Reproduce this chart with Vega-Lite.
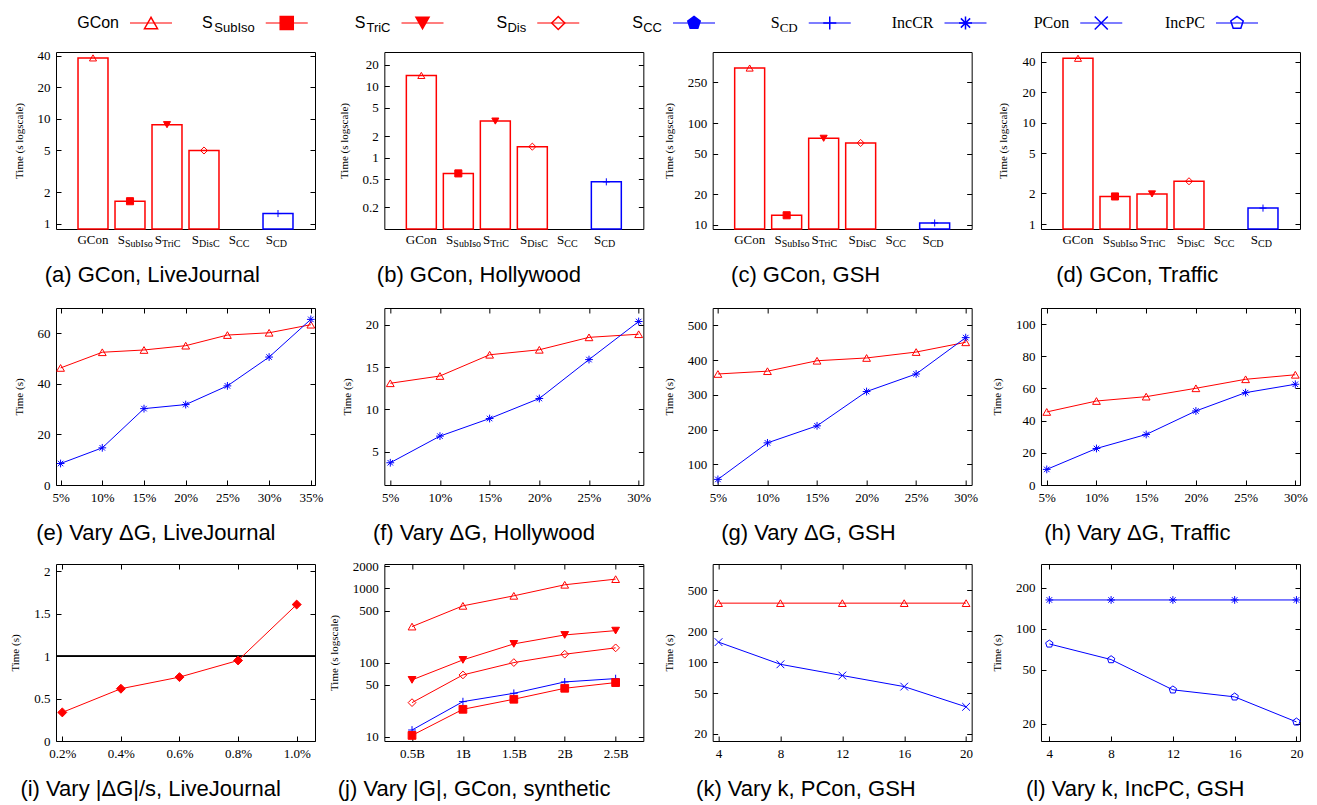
{
"$schema":"https://vega.github.io/schema/vega-lite/v6.json",
"padding":{"left":9,"top":13,"right":5,"bottom":0},
"config":{
 "view":{"stroke":"black","strokeWidth":1},
 "axis":{"grid":false,"domain":false,"ticks":true,"tickColor":"black","tickSize":-5,"tickWidth":1,"labelFont":"Liberation Serif","labelFontSize":13,"labelColor":"black","labelPadding":11,"labelFlush":false,"labelOverlap":false,"titleFont":"Liberation Serif","titleFontSize":11,"titleFontWeight":"normal","titleColor":"black","titlePadding":13},
 "title":{"font":"Liberation Sans","fontSize":22,"fontWeight":"normal","color":"black","orient":"bottom","anchor":"middle","frame":"bounds","offset":16,"dx":-12},
 "text":{"font":"Liberation Serif","color":"black"}
},
"spacing":14,
"vconcat":[
{
 "width":1243,"height":20,"view":{"stroke":null},
 "data":{"values":[{"i":1,"s":"GCon","lab":"GCon"},{"i":2,"s":"SubIso","sub":"SubIso"},{"i":3,"s":"TriC","sub":"TriC"},{"i":4,"s":"Dis","sub":"Dis"},{"i":5,"s":"CC","sub":"CC"},{"i":6,"s":"CD","sub":"CD"},{"i":7,"s":"IncCR","lab":"IncCR"},{"i":8,"s":"PCon","lab":"PCon"},{"i":9,"s":"IncPC","lab":"IncPC"}]},
 "layer":[
  {"mark":{"type":"point","shape":"M-1,0L1,0","size":1764,"strokeWidth":2,"opacity":0.5,"filled":false},
   "encoding":{"x":{"field":"i","type":"quantitative","scale":{"domain":[0.3002,9.4567],"nice":false,"zero":false},"axis":null},
    "stroke":{"field":"s","type":"nominal","scale":{"domain":["GCon","SubIso","TriC","Dis","CC","CD","IncCR","PCon","IncPC","Ratio"],"range":["#ff0000","#ff0000","#ff0000","#ff0000","#0000ff","#0000ff","#0000ff","#0000ff","#0000ff","#ff0000"]},"legend":null}}},
  {"mark":{"type":"point","size":170,"strokeWidth":1.5,"opacity":1},
   "encoding":{"x":{"field":"i","type":"quantitative","scale":{"domain":[0.3002,9.4567],"nice":false,"zero":false},"axis":null},
    "stroke":{"field":"s","type":"nominal","scale":{"domain":["GCon","SubIso","TriC","Dis","CC","CD","IncCR","PCon","IncPC","Ratio"],"range":["#ff0000","#ff0000","#ff0000","#ff0000","#0000ff","#0000ff","#0000ff","#0000ff","#0000ff","#ff0000"]},"legend":null},
    "fill":{"field":"s","type":"nominal","scale":{"domain":["GCon","SubIso","TriC","Dis","CC","CD","IncCR","PCon","IncPC","Ratio"],"range":["transparent","#ff0000","#ff0000","transparent","#0000ff","transparent","transparent","transparent","transparent","#ff0000"]},"legend":null},
    "shape":{"field":"s","type":"nominal","scale":{"domain":["GCon","SubIso","TriC","Dis","CC","CD","IncCR","PCon","IncPC","Ratio"],"range":["triangle-up","square","triangle-down","diamond","M0,-1L0.951,-0.309L0.588,0.809L-0.588,0.809L-0.951,-0.309Z","M-1,0L1,0M0,-1L0,1","M-1,0L1,0M0,-1L0,1M-0.71,-0.71L0.71,0.71M-0.71,0.71L0.71,-0.71","M-1,-1L1,1M-1,1L1,-1","M0,-1L0.951,-0.309L0.588,0.809L-0.588,0.809L-0.951,-0.309Z","diamond"]},"legend":null}}},
  {"transform":[{"filter":"datum.s==='GCon'"}],"mark":{"type":"text","align":"right","dx":-32,"font":"Liberation Sans","fontSize":16},
   "encoding":{"x":{"field":"i","type":"quantitative","scale":{"domain":[0.3002,9.4567],"nice":false,"zero":false},"axis":null},"text":{"field":"lab"}}},
  {"transform":[{"filter":"indexof(['IncCR','PCon','IncPC'],datum.s)>=0"}],"mark":{"type":"text","align":"right","dx":-32,"font":"Liberation Serif","fontSize":16},
   "encoding":{"x":{"field":"i","type":"quantitative","scale":{"domain":[0.3002,9.4567],"nice":false,"zero":false},"axis":null},"text":{"field":"lab"}}},
  {"transform":[{"filter":"indexof(['SubIso','TriC','Dis','CC'],datum.s)>=0"}],"mark":{"type":"text","align":"right","dx":-32,"dy":5,"font":"Liberation Sans","fontSize":13},
   "encoding":{"x":{"field":"i","type":"quantitative","scale":{"domain":[0.3002,9.4567],"nice":false,"zero":false},"axis":null},"text":{"field":"sub"}}},
  {"transform":[{"filter":"datum.s==='CD'"}],"mark":{"type":"text","align":"right","dx":-32,"dy":5,"font":"Liberation Serif","fontSize":13},
   "encoding":{"x":{"field":"i","type":"quantitative","scale":{"domain":[0.3002,9.4567],"nice":false,"zero":false},"axis":null},"text":{"field":"sub"}}},
  {"transform":[{"filter":"datum.s==='SubIso'"}],"mark":{"type":"text","align":"right","dx":-74,"font":"Liberation Sans","fontSize":16},
   "encoding":{"x":{"field":"i","type":"quantitative","scale":{"domain":[0.3002,9.4567],"nice":false,"zero":false},"axis":null},"text":{"value":"S"}}},
  {"transform":[{"filter":"datum.s==='TriC'"}],"mark":{"type":"text","align":"right","dx":-57,"font":"Liberation Sans","fontSize":16},
   "encoding":{"x":{"field":"i","type":"quantitative","scale":{"domain":[0.3002,9.4567],"nice":false,"zero":false},"axis":null},"text":{"value":"S"}}},
  {"transform":[{"filter":"datum.s==='Dis' || datum.s==='CC'"}],"mark":{"type":"text","align":"right","dx":-51,"font":"Liberation Sans","fontSize":16},
   "encoding":{"x":{"field":"i","type":"quantitative","scale":{"domain":[0.3002,9.4567],"nice":false,"zero":false},"axis":null},"text":{"value":"S"}}},
  {"transform":[{"filter":"datum.s==='CD'"}],"mark":{"type":"text","align":"right","dx":-50,"font":"Liberation Serif","fontSize":16},
   "encoding":{"x":{"field":"i","type":"quantitative","scale":{"domain":[0.3002,9.4567],"nice":false,"zero":false},"axis":null},"text":{"value":"S"}}}
 ]
},
{
 "bounds":"flush","columns":4,"spacing":{"row":79,"column":69.33},
 "concat":[
  {"width":259,"height":177,"title":{"text":"(a)  GCon, LiveJournal"},
   "data":{"values":[{"s":"GCon","t":38.3,"sub":""},{"s":"SubIso","t":1.64,"sub":"SubIso"},{"s":"TriC","t":8.82,"sub":"TriC"},{"s":"Dis","t":5.0,"sub":"DisC"},{"s":"CC","t":null,"sub":"CC"},{"s":"CD","t":1.25,"sub":"CD"}]},
   "resolve":{"axis":{"y":"independent"}},
   "layer":[
    {"mark":{"type":"bar","fill":"transparent","strokeWidth":1.5},
     "encoding":{"x":{"field":"s","type":"nominal","sort":null,"scale":{"type":"band","domain":["GCon","SubIso","TriC","Dis","CC","CD"],"paddingInner":0.19,"paddingOuter":0.595},"axis":null},
      "y":{"field":"t","type":"quantitative","scale":{"type":"log","domain":[0.89,43.6],"nice":false},"axis":{"values":[1,2,5,10,20,40],"format":"~g","title":"Time (s logscale)","orient":"left"}},
      "y2":{"datum":0.89},
      "stroke":{"field":"s","type":"nominal","scale":{"domain":["GCon","SubIso","TriC","Dis","CC","CD","IncCR","PCon","IncPC","Ratio"],"range":["#ff0000","#ff0000","#ff0000","#ff0000","#0000ff","#0000ff","#0000ff","#0000ff","#0000ff","#ff0000"]},"legend":null}}},
    {"mark":{"type":"point","size":50,"strokeWidth":1,"opacity":1},
     "encoding":{"x":{"field":"s","type":"nominal","sort":null,"scale":{"type":"band","domain":["GCon","SubIso","TriC","Dis","CC","CD"],"paddingInner":0.19,"paddingOuter":0.595},"axis":null},
      "y":{"field":"t","type":"quantitative","scale":{"type":"log","domain":[0.89,43.6],"nice":false},"axis":{"values":[1,2,5,10,20,40],"labels":false,"title":null,"orient":"right"}},
      "stroke":{"field":"s","type":"nominal","scale":{"domain":["GCon","SubIso","TriC","Dis","CC","CD","IncCR","PCon","IncPC","Ratio"],"range":["#ff0000","#ff0000","#ff0000","#ff0000","#0000ff","#0000ff","#0000ff","#0000ff","#0000ff","#ff0000"]},"legend":null},
      "fill":{"field":"s","type":"nominal","scale":{"domain":["GCon","SubIso","TriC","Dis","CC","CD","IncCR","PCon","IncPC","Ratio"],"range":["transparent","#ff0000","#ff0000","transparent","#0000ff","transparent","transparent","transparent","transparent","#ff0000"]},"legend":null},
      "shape":{"field":"s","type":"nominal","scale":{"domain":["GCon","SubIso","TriC","Dis","CC","CD","IncCR","PCon","IncPC","Ratio"],"range":["triangle-up","square","triangle-down","diamond","M0,-1L0.951,-0.309L0.588,0.809L-0.588,0.809L-0.951,-0.309Z","M-1,0L1,0M0,-1L0,1","M-1,0L1,0M0,-1L0,1M-0.71,-0.71L0.71,0.71M-0.71,0.71L0.71,-0.71","M-1,-1L1,1M-1,1L1,-1","M0,-1L0.951,-0.309L0.588,0.809L-0.588,0.809L-0.951,-0.309Z","diamond"]},"legend":null}}},
    {"transform":[{"filter":"datum.s==='GCon'"}],"mark":{"type":"text","baseline":"top","dy":5,"fontSize":13},
     "encoding":{"x":{"field":"s","type":"nominal","sort":null,"scale":{"type":"band","domain":["GCon","SubIso","TriC","Dis","CC","CD"],"paddingInner":0.19,"paddingOuter":0.595},"axis":null},
      "y":{"datum":0.89,"type":"quantitative","scale":{"type":"log","domain":[0.89,43.6],"nice":false},"axis":null},"text":{"value":"GCon"}}},
    {"transform":[{"filter":"datum.s!=='GCon'"}],"mark":{"type":"text","baseline":"top","align":"right","dx":-5,"dy":5,"fontSize":13},
     "encoding":{"x":{"field":"s","type":"nominal","sort":null,"scale":{"type":"band","domain":["GCon","SubIso","TriC","Dis","CC","CD"],"paddingInner":0.19,"paddingOuter":0.595},"axis":null},
      "y":{"datum":0.89,"type":"quantitative","scale":{"type":"log","domain":[0.89,43.6],"nice":false},"axis":null},"text":{"value":"S"}}},
    {"transform":[{"filter":"datum.s!=='GCon'"}],"mark":{"type":"text","baseline":"top","align":"left","dx":-5,"dy":10,"fontSize":10},
     "encoding":{"x":{"field":"s","type":"nominal","sort":null,"scale":{"type":"band","domain":["GCon","SubIso","TriC","Dis","CC","CD"],"paddingInner":0.19,"paddingOuter":0.595},"axis":null},
      "y":{"datum":0.89,"type":"quantitative","scale":{"type":"log","domain":[0.89,43.6],"nice":false},"axis":null},"text":{"field":"sub"}}}
   ]},
  {"width":259,"height":177,"title":{"text":"(b)  GCon, Hollywood"},
   "data":{"values":[{"s":"GCon","t":14.1,"sub":""},{"s":"SubIso","t":0.6,"sub":"SubIso"},{"s":"TriC","t":3.24,"sub":"TriC"},{"s":"Dis","t":1.42,"sub":"DisC"},{"s":"CC","t":null,"sub":"CC"},{"s":"CD","t":0.457,"sub":"CD"}]},
   "resolve":{"axis":{"y":"independent"}},
   "layer":[
    {"mark":{"type":"bar","fill":"transparent","strokeWidth":1.5},
     "encoding":{"x":{"field":"s","type":"nominal","sort":null,"scale":{"type":"band","domain":["GCon","SubIso","TriC","Dis","CC","CD"],"paddingInner":0.19,"paddingOuter":0.595},"axis":null},
      "y":{"field":"t","type":"quantitative","scale":{"type":"log","domain":[0.1,30],"nice":false},"axis":{"values":[0.2,0.5,1,2,5,10,20],"format":"~g","title":"Time (s logscale)","orient":"left"}},
      "y2":{"datum":0.1},
      "stroke":{"field":"s","type":"nominal","scale":{"domain":["GCon","SubIso","TriC","Dis","CC","CD","IncCR","PCon","IncPC","Ratio"],"range":["#ff0000","#ff0000","#ff0000","#ff0000","#0000ff","#0000ff","#0000ff","#0000ff","#0000ff","#ff0000"]},"legend":null}}},
    {"mark":{"type":"point","size":50,"strokeWidth":1,"opacity":1},
     "encoding":{"x":{"field":"s","type":"nominal","sort":null,"scale":{"type":"band","domain":["GCon","SubIso","TriC","Dis","CC","CD"],"paddingInner":0.19,"paddingOuter":0.595},"axis":null},
      "y":{"field":"t","type":"quantitative","scale":{"type":"log","domain":[0.1,30],"nice":false},"axis":{"values":[0.2,0.5,1,2,5,10,20],"labels":false,"title":null,"orient":"right"}},
      "stroke":{"field":"s","type":"nominal","scale":{"domain":["GCon","SubIso","TriC","Dis","CC","CD","IncCR","PCon","IncPC","Ratio"],"range":["#ff0000","#ff0000","#ff0000","#ff0000","#0000ff","#0000ff","#0000ff","#0000ff","#0000ff","#ff0000"]},"legend":null},
      "fill":{"field":"s","type":"nominal","scale":{"domain":["GCon","SubIso","TriC","Dis","CC","CD","IncCR","PCon","IncPC","Ratio"],"range":["transparent","#ff0000","#ff0000","transparent","#0000ff","transparent","transparent","transparent","transparent","#ff0000"]},"legend":null},
      "shape":{"field":"s","type":"nominal","scale":{"domain":["GCon","SubIso","TriC","Dis","CC","CD","IncCR","PCon","IncPC","Ratio"],"range":["triangle-up","square","triangle-down","diamond","M0,-1L0.951,-0.309L0.588,0.809L-0.588,0.809L-0.951,-0.309Z","M-1,0L1,0M0,-1L0,1","M-1,0L1,0M0,-1L0,1M-0.71,-0.71L0.71,0.71M-0.71,0.71L0.71,-0.71","M-1,-1L1,1M-1,1L1,-1","M0,-1L0.951,-0.309L0.588,0.809L-0.588,0.809L-0.951,-0.309Z","diamond"]},"legend":null}}},
    {"transform":[{"filter":"datum.s==='GCon'"}],"mark":{"type":"text","baseline":"top","dy":5,"fontSize":13},
     "encoding":{"x":{"field":"s","type":"nominal","sort":null,"scale":{"type":"band","domain":["GCon","SubIso","TriC","Dis","CC","CD"],"paddingInner":0.19,"paddingOuter":0.595},"axis":null},
      "y":{"datum":0.1,"type":"quantitative","scale":{"type":"log","domain":[0.1,30],"nice":false},"axis":null},"text":{"value":"GCon"}}},
    {"transform":[{"filter":"datum.s!=='GCon'"}],"mark":{"type":"text","baseline":"top","align":"right","dx":-5,"dy":5,"fontSize":13},
     "encoding":{"x":{"field":"s","type":"nominal","sort":null,"scale":{"type":"band","domain":["GCon","SubIso","TriC","Dis","CC","CD"],"paddingInner":0.19,"paddingOuter":0.595},"axis":null},
      "y":{"datum":0.1,"type":"quantitative","scale":{"type":"log","domain":[0.1,30],"nice":false},"axis":null},"text":{"value":"S"}}},
    {"transform":[{"filter":"datum.s!=='GCon'"}],"mark":{"type":"text","baseline":"top","align":"left","dx":-5,"dy":10,"fontSize":10},
     "encoding":{"x":{"field":"s","type":"nominal","sort":null,"scale":{"type":"band","domain":["GCon","SubIso","TriC","Dis","CC","CD"],"paddingInner":0.19,"paddingOuter":0.595},"axis":null},
      "y":{"datum":0.1,"type":"quantitative","scale":{"type":"log","domain":[0.1,30],"nice":false},"axis":null},"text":{"field":"sub"}}}
   ]},
  {"width":259,"height":177,"title":{"text":"(c)  GCon, GSH"},
   "data":{"values":[{"s":"GCon","t":346,"sub":""},{"s":"SubIso","t":12.45,"sub":"SubIso"},{"s":"TriC","t":70.8,"sub":"TriC"},{"s":"Dis","t":63.7,"sub":"DisC"},{"s":"CC","t":null,"sub":"CC"},{"s":"CD","t":10.46,"sub":"CD"}]},
   "resolve":{"axis":{"y":"independent"}},
   "layer":[
    {"mark":{"type":"bar","fill":"transparent","strokeWidth":1.5},
     "encoding":{"x":{"field":"s","type":"nominal","sort":null,"scale":{"type":"band","domain":["GCon","SubIso","TriC","Dis","CC","CD"],"paddingInner":0.19,"paddingOuter":0.595},"axis":null},
      "y":{"field":"t","type":"quantitative","scale":{"type":"log","domain":[9.13,497],"nice":false},"axis":{"values":[10,20,50,100,250],"format":"~g","title":"Time (s logscale)","orient":"left"}},
      "y2":{"datum":9.13},
      "stroke":{"field":"s","type":"nominal","scale":{"domain":["GCon","SubIso","TriC","Dis","CC","CD","IncCR","PCon","IncPC","Ratio"],"range":["#ff0000","#ff0000","#ff0000","#ff0000","#0000ff","#0000ff","#0000ff","#0000ff","#0000ff","#ff0000"]},"legend":null}}},
    {"mark":{"type":"point","size":50,"strokeWidth":1,"opacity":1},
     "encoding":{"x":{"field":"s","type":"nominal","sort":null,"scale":{"type":"band","domain":["GCon","SubIso","TriC","Dis","CC","CD"],"paddingInner":0.19,"paddingOuter":0.595},"axis":null},
      "y":{"field":"t","type":"quantitative","scale":{"type":"log","domain":[9.13,497],"nice":false},"axis":{"values":[10,20,50,100,250],"labels":false,"title":null,"orient":"right"}},
      "stroke":{"field":"s","type":"nominal","scale":{"domain":["GCon","SubIso","TriC","Dis","CC","CD","IncCR","PCon","IncPC","Ratio"],"range":["#ff0000","#ff0000","#ff0000","#ff0000","#0000ff","#0000ff","#0000ff","#0000ff","#0000ff","#ff0000"]},"legend":null},
      "fill":{"field":"s","type":"nominal","scale":{"domain":["GCon","SubIso","TriC","Dis","CC","CD","IncCR","PCon","IncPC","Ratio"],"range":["transparent","#ff0000","#ff0000","transparent","#0000ff","transparent","transparent","transparent","transparent","#ff0000"]},"legend":null},
      "shape":{"field":"s","type":"nominal","scale":{"domain":["GCon","SubIso","TriC","Dis","CC","CD","IncCR","PCon","IncPC","Ratio"],"range":["triangle-up","square","triangle-down","diamond","M0,-1L0.951,-0.309L0.588,0.809L-0.588,0.809L-0.951,-0.309Z","M-1,0L1,0M0,-1L0,1","M-1,0L1,0M0,-1L0,1M-0.71,-0.71L0.71,0.71M-0.71,0.71L0.71,-0.71","M-1,-1L1,1M-1,1L1,-1","M0,-1L0.951,-0.309L0.588,0.809L-0.588,0.809L-0.951,-0.309Z","diamond"]},"legend":null}}},
    {"transform":[{"filter":"datum.s==='GCon'"}],"mark":{"type":"text","baseline":"top","dy":5,"fontSize":13},
     "encoding":{"x":{"field":"s","type":"nominal","sort":null,"scale":{"type":"band","domain":["GCon","SubIso","TriC","Dis","CC","CD"],"paddingInner":0.19,"paddingOuter":0.595},"axis":null},
      "y":{"datum":9.13,"type":"quantitative","scale":{"type":"log","domain":[9.13,497],"nice":false},"axis":null},"text":{"value":"GCon"}}},
    {"transform":[{"filter":"datum.s!=='GCon'"}],"mark":{"type":"text","baseline":"top","align":"right","dx":-5,"dy":5,"fontSize":13},
     "encoding":{"x":{"field":"s","type":"nominal","sort":null,"scale":{"type":"band","domain":["GCon","SubIso","TriC","Dis","CC","CD"],"paddingInner":0.19,"paddingOuter":0.595},"axis":null},
      "y":{"datum":9.13,"type":"quantitative","scale":{"type":"log","domain":[9.13,497],"nice":false},"axis":null},"text":{"value":"S"}}},
    {"transform":[{"filter":"datum.s!=='GCon'"}],"mark":{"type":"text","baseline":"top","align":"left","dx":-5,"dy":10,"fontSize":10},
     "encoding":{"x":{"field":"s","type":"nominal","sort":null,"scale":{"type":"band","domain":["GCon","SubIso","TriC","Dis","CC","CD"],"paddingInner":0.19,"paddingOuter":0.595},"axis":null},
      "y":{"datum":9.13,"type":"quantitative","scale":{"type":"log","domain":[9.13,497],"nice":false},"axis":null},"text":{"field":"sub"}}}
   ]},
  {"width":259,"height":177,"title":{"text":"(d)  GCon, Traffic"},
   "data":{"values":[{"s":"GCon","t":43.1,"sub":""},{"s":"SubIso","t":1.87,"sub":"SubIso"},{"s":"TriC","t":1.98,"sub":"TriC"},{"s":"Dis","t":2.64,"sub":"DisC"},{"s":"CC","t":null,"sub":"CC"},{"s":"CD","t":1.435,"sub":"CD"}]},
   "resolve":{"axis":{"y":"independent"}},
   "layer":[
    {"mark":{"type":"bar","fill":"transparent","strokeWidth":1.5},
     "encoding":{"x":{"field":"s","type":"nominal","sort":null,"scale":{"type":"band","domain":["GCon","SubIso","TriC","Dis","CC","CD"],"paddingInner":0.19,"paddingOuter":0.595},"axis":null},
      "y":{"field":"t","type":"quantitative","scale":{"type":"log","domain":[0.893,49.7],"nice":false},"axis":{"values":[1,2,5,10,20,40],"format":"~g","title":"Time (s logscale)","orient":"left"}},
      "y2":{"datum":0.893},
      "stroke":{"field":"s","type":"nominal","scale":{"domain":["GCon","SubIso","TriC","Dis","CC","CD","IncCR","PCon","IncPC","Ratio"],"range":["#ff0000","#ff0000","#ff0000","#ff0000","#0000ff","#0000ff","#0000ff","#0000ff","#0000ff","#ff0000"]},"legend":null}}},
    {"mark":{"type":"point","size":50,"strokeWidth":1,"opacity":1},
     "encoding":{"x":{"field":"s","type":"nominal","sort":null,"scale":{"type":"band","domain":["GCon","SubIso","TriC","Dis","CC","CD"],"paddingInner":0.19,"paddingOuter":0.595},"axis":null},
      "y":{"field":"t","type":"quantitative","scale":{"type":"log","domain":[0.893,49.7],"nice":false},"axis":{"values":[1,2,5,10,20,40],"labels":false,"title":null,"orient":"right"}},
      "stroke":{"field":"s","type":"nominal","scale":{"domain":["GCon","SubIso","TriC","Dis","CC","CD","IncCR","PCon","IncPC","Ratio"],"range":["#ff0000","#ff0000","#ff0000","#ff0000","#0000ff","#0000ff","#0000ff","#0000ff","#0000ff","#ff0000"]},"legend":null},
      "fill":{"field":"s","type":"nominal","scale":{"domain":["GCon","SubIso","TriC","Dis","CC","CD","IncCR","PCon","IncPC","Ratio"],"range":["transparent","#ff0000","#ff0000","transparent","#0000ff","transparent","transparent","transparent","transparent","#ff0000"]},"legend":null},
      "shape":{"field":"s","type":"nominal","scale":{"domain":["GCon","SubIso","TriC","Dis","CC","CD","IncCR","PCon","IncPC","Ratio"],"range":["triangle-up","square","triangle-down","diamond","M0,-1L0.951,-0.309L0.588,0.809L-0.588,0.809L-0.951,-0.309Z","M-1,0L1,0M0,-1L0,1","M-1,0L1,0M0,-1L0,1M-0.71,-0.71L0.71,0.71M-0.71,0.71L0.71,-0.71","M-1,-1L1,1M-1,1L1,-1","M0,-1L0.951,-0.309L0.588,0.809L-0.588,0.809L-0.951,-0.309Z","diamond"]},"legend":null}}},
    {"transform":[{"filter":"datum.s==='GCon'"}],"mark":{"type":"text","baseline":"top","dy":5,"fontSize":13},
     "encoding":{"x":{"field":"s","type":"nominal","sort":null,"scale":{"type":"band","domain":["GCon","SubIso","TriC","Dis","CC","CD"],"paddingInner":0.19,"paddingOuter":0.595},"axis":null},
      "y":{"datum":0.893,"type":"quantitative","scale":{"type":"log","domain":[0.893,49.7],"nice":false},"axis":null},"text":{"value":"GCon"}}},
    {"transform":[{"filter":"datum.s!=='GCon'"}],"mark":{"type":"text","baseline":"top","align":"right","dx":-5,"dy":5,"fontSize":13},
     "encoding":{"x":{"field":"s","type":"nominal","sort":null,"scale":{"type":"band","domain":["GCon","SubIso","TriC","Dis","CC","CD"],"paddingInner":0.19,"paddingOuter":0.595},"axis":null},
      "y":{"datum":0.893,"type":"quantitative","scale":{"type":"log","domain":[0.893,49.7],"nice":false},"axis":null},"text":{"value":"S"}}},
    {"transform":[{"filter":"datum.s!=='GCon'"}],"mark":{"type":"text","baseline":"top","align":"left","dx":-5,"dy":10,"fontSize":10},
     "encoding":{"x":{"field":"s","type":"nominal","sort":null,"scale":{"type":"band","domain":["GCon","SubIso","TriC","Dis","CC","CD"],"paddingInner":0.19,"paddingOuter":0.595},"axis":null},
      "y":{"datum":0.893,"type":"quantitative","scale":{"type":"log","domain":[0.893,49.7],"nice":false},"axis":null},"text":{"field":"sub"}}}
   ]},
  {"width":259,"height":177,"title":{"text":"(e) Vary ΔG, LiveJournal","offset":19},
   "data":{"values":[{"x":5,"t":46.3,"s":"GCon"},{"x":10,"t":52.5,"s":"GCon"},{"x":15,"t":53.4,"s":"GCon"},{"x":20,"t":55.1,"s":"GCon"},{"x":25,"t":59.3,"s":"GCon"},{"x":30,"t":60.2,"s":"GCon"},{"x":35,"t":63.4,"s":"GCon"},
    {"x":5,"t":8.5,"s":"IncCR"},{"x":10,"t":14.7,"s":"IncCR"},{"x":15,"t":30.2,"s":"IncCR"},{"x":20,"t":31.8,"s":"IncCR"},{"x":25,"t":39.2,"s":"IncCR"},{"x":30,"t":50.6,"s":"IncCR"},{"x":35,"t":65.5,"s":"IncCR"}]},
   "resolve":{"axis":{"x":"independent","y":"independent"}},
   "layer":[
    {"mark":{"type":"line","strokeWidth":1},
     "encoding":{"x":{"field":"x","type":"quantitative","scale":{"domain":[4.45,35.5],"nice":false,"zero":false},"axis":{"values":[5,10,15,20,25,30,35],"labelExpr":"datum.value+'%'","title":null,"orient":"bottom"}},
      "y":{"field":"t","type":"quantitative","scale":{"domain":[0,70],"nice":false,"zero":false},"axis":{"values":[0,20,40,60],"title":"Time (s)","orient":"left"}},
      "stroke":{"field":"s","type":"nominal","scale":{"domain":["GCon","SubIso","TriC","Dis","CC","CD","IncCR","PCon","IncPC","Ratio"],"range":["#ff0000","#ff0000","#ff0000","#ff0000","#0000ff","#0000ff","#0000ff","#0000ff","#0000ff","#ff0000"]},"legend":null}}},
    {"mark":{"type":"point","size":60,"strokeWidth":1,"opacity":1},
     "encoding":{"x":{"field":"x","type":"quantitative","scale":{"domain":[4.45,35.5],"nice":false,"zero":false},"axis":{"values":[5,10,15,20,25,30,35],"labels":false,"title":null,"orient":"top"}},
      "y":{"field":"t","type":"quantitative","scale":{"domain":[0,70],"nice":false,"zero":false},"axis":{"values":[0,20,40,60],"labels":false,"title":null,"orient":"right"}},
      "stroke":{"field":"s","type":"nominal","scale":{"domain":["GCon","SubIso","TriC","Dis","CC","CD","IncCR","PCon","IncPC","Ratio"],"range":["#ff0000","#ff0000","#ff0000","#ff0000","#0000ff","#0000ff","#0000ff","#0000ff","#0000ff","#ff0000"]},"legend":null},
      "fill":{"field":"s","type":"nominal","scale":{"domain":["GCon","SubIso","TriC","Dis","CC","CD","IncCR","PCon","IncPC","Ratio"],"range":["transparent","#ff0000","#ff0000","transparent","#0000ff","transparent","transparent","transparent","transparent","#ff0000"]},"legend":null},
      "shape":{"field":"s","type":"nominal","scale":{"domain":["GCon","SubIso","TriC","Dis","CC","CD","IncCR","PCon","IncPC","Ratio"],"range":["triangle-up","square","triangle-down","diamond","M0,-1L0.951,-0.309L0.588,0.809L-0.588,0.809L-0.951,-0.309Z","M-1,0L1,0M0,-1L0,1","M-1,0L1,0M0,-1L0,1M-0.71,-0.71L0.71,0.71M-0.71,0.71L0.71,-0.71","M-1,-1L1,1M-1,1L1,-1","M0,-1L0.951,-0.309L0.588,0.809L-0.588,0.809L-0.951,-0.309Z","diamond"]},"legend":null}}}
   ]},
  {"width":259,"height":177,"title":{"text":"(f) Vary ΔG, Hollywood","offset":19},
   "data":{"values":[{"x":5,"t":13.1,"s":"GCon"},{"x":10,"t":13.96,"s":"GCon"},{"x":15,"t":16.47,"s":"GCon"},{"x":20,"t":17.06,"s":"GCon"},{"x":25,"t":18.53,"s":"GCon"},{"x":30,"t":18.9,"s":"GCon"},
    {"x":5,"t":3.7,"s":"IncCR"},{"x":10,"t":6.85,"s":"IncCR"},{"x":15,"t":8.93,"s":"IncCR"},{"x":20,"t":11.3,"s":"IncCR"},{"x":25,"t":15.9,"s":"IncCR"},{"x":30,"t":20.4,"s":"IncCR"}]},
   "resolve":{"axis":{"x":"independent","y":"independent"}},
   "layer":[
    {"mark":{"type":"line","strokeWidth":1},
     "encoding":{"x":{"field":"x","type":"quantitative","scale":{"domain":[4.4,30.47],"nice":false,"zero":false},"axis":{"values":[5,10,15,20,25,30],"labelExpr":"datum.value+'%'","title":null,"orient":"bottom"}},
      "y":{"field":"t","type":"quantitative","scale":{"domain":[1.07,22],"nice":false,"zero":false},"axis":{"values":[5,10,15,20],"title":"Time (s)","orient":"left"}},
      "stroke":{"field":"s","type":"nominal","scale":{"domain":["GCon","SubIso","TriC","Dis","CC","CD","IncCR","PCon","IncPC","Ratio"],"range":["#ff0000","#ff0000","#ff0000","#ff0000","#0000ff","#0000ff","#0000ff","#0000ff","#0000ff","#ff0000"]},"legend":null}}},
    {"mark":{"type":"point","size":60,"strokeWidth":1,"opacity":1},
     "encoding":{"x":{"field":"x","type":"quantitative","scale":{"domain":[4.4,30.47],"nice":false,"zero":false},"axis":{"values":[5,10,15,20,25,30],"labels":false,"title":null,"orient":"top"}},
      "y":{"field":"t","type":"quantitative","scale":{"domain":[1.07,22],"nice":false,"zero":false},"axis":{"values":[5,10,15,20],"labels":false,"title":null,"orient":"right"}},
      "stroke":{"field":"s","type":"nominal","scale":{"domain":["GCon","SubIso","TriC","Dis","CC","CD","IncCR","PCon","IncPC","Ratio"],"range":["#ff0000","#ff0000","#ff0000","#ff0000","#0000ff","#0000ff","#0000ff","#0000ff","#0000ff","#ff0000"]},"legend":null},
      "fill":{"field":"s","type":"nominal","scale":{"domain":["GCon","SubIso","TriC","Dis","CC","CD","IncCR","PCon","IncPC","Ratio"],"range":["transparent","#ff0000","#ff0000","transparent","#0000ff","transparent","transparent","transparent","transparent","#ff0000"]},"legend":null},
      "shape":{"field":"s","type":"nominal","scale":{"domain":["GCon","SubIso","TriC","Dis","CC","CD","IncCR","PCon","IncPC","Ratio"],"range":["triangle-up","square","triangle-down","diamond","M0,-1L0.951,-0.309L0.588,0.809L-0.588,0.809L-0.951,-0.309Z","M-1,0L1,0M0,-1L0,1","M-1,0L1,0M0,-1L0,1M-0.71,-0.71L0.71,0.71M-0.71,0.71L0.71,-0.71","M-1,-1L1,1M-1,1L1,-1","M0,-1L0.951,-0.309L0.588,0.809L-0.588,0.809L-0.951,-0.309Z","diamond"]},"legend":null}}}
   ]},
  {"width":259,"height":177,"title":{"text":"(g) Vary ΔG, GSH","offset":19},
   "data":{"values":[{"x":5,"t":360,"s":"GCon"},{"x":10,"t":368,"s":"GCon"},{"x":15,"t":398,"s":"GCon"},{"x":20,"t":406,"s":"GCon"},{"x":25,"t":423,"s":"GCon"},{"x":30,"t":451,"s":"GCon"},
    {"x":5,"t":57,"s":"IncCR"},{"x":10,"t":162,"s":"IncCR"},{"x":15,"t":211,"s":"IncCR"},{"x":20,"t":309.5,"s":"IncCR"},{"x":25,"t":360,"s":"IncCR"},{"x":30,"t":464.5,"s":"IncCR"}]},
   "resolve":{"axis":{"x":"independent","y":"independent"}},
   "layer":[
    {"mark":{"type":"line","strokeWidth":1},
     "encoding":{"x":{"field":"x","type":"quantitative","scale":{"domain":[4.47,30.6],"nice":false,"zero":false},"axis":{"values":[5,10,15,20,25,30],"labelExpr":"datum.value+'%'","title":null,"orient":"bottom"}},
      "y":{"field":"t","type":"quantitative","scale":{"domain":[40.9,549.6],"nice":false,"zero":false},"axis":{"values":[100,200,300,400,500],"title":"Time (s)","orient":"left"}},
      "stroke":{"field":"s","type":"nominal","scale":{"domain":["GCon","SubIso","TriC","Dis","CC","CD","IncCR","PCon","IncPC","Ratio"],"range":["#ff0000","#ff0000","#ff0000","#ff0000","#0000ff","#0000ff","#0000ff","#0000ff","#0000ff","#ff0000"]},"legend":null}}},
    {"mark":{"type":"point","size":60,"strokeWidth":1,"opacity":1},
     "encoding":{"x":{"field":"x","type":"quantitative","scale":{"domain":[4.47,30.6],"nice":false,"zero":false},"axis":{"values":[5,10,15,20,25,30],"labels":false,"title":null,"orient":"top"}},
      "y":{"field":"t","type":"quantitative","scale":{"domain":[40.9,549.6],"nice":false,"zero":false},"axis":{"values":[100,200,300,400,500],"labels":false,"title":null,"orient":"right"}},
      "stroke":{"field":"s","type":"nominal","scale":{"domain":["GCon","SubIso","TriC","Dis","CC","CD","IncCR","PCon","IncPC","Ratio"],"range":["#ff0000","#ff0000","#ff0000","#ff0000","#0000ff","#0000ff","#0000ff","#0000ff","#0000ff","#ff0000"]},"legend":null},
      "fill":{"field":"s","type":"nominal","scale":{"domain":["GCon","SubIso","TriC","Dis","CC","CD","IncCR","PCon","IncPC","Ratio"],"range":["transparent","#ff0000","#ff0000","transparent","#0000ff","transparent","transparent","transparent","transparent","#ff0000"]},"legend":null},
      "shape":{"field":"s","type":"nominal","scale":{"domain":["GCon","SubIso","TriC","Dis","CC","CD","IncCR","PCon","IncPC","Ratio"],"range":["triangle-up","square","triangle-down","diamond","M0,-1L0.951,-0.309L0.588,0.809L-0.588,0.809L-0.951,-0.309Z","M-1,0L1,0M0,-1L0,1","M-1,0L1,0M0,-1L0,1M-0.71,-0.71L0.71,0.71M-0.71,0.71L0.71,-0.71","M-1,-1L1,1M-1,1L1,-1","M0,-1L0.951,-0.309L0.588,0.809L-0.588,0.809L-0.951,-0.309Z","diamond"]},"legend":null}}}
   ]},
  {"width":259,"height":177,"title":{"text":"(h) Vary ΔG, Traffic","offset":19},
   "data":{"values":[{"x":5,"t":45.4,"s":"GCon"},{"x":10,"t":52.2,"s":"GCon"},{"x":15,"t":54.9,"s":"GCon"},{"x":20,"t":60.1,"s":"GCon"},{"x":25,"t":65.7,"s":"GCon"},{"x":30,"t":68.5,"s":"GCon"},
    {"x":5,"t":9.7,"s":"IncCR"},{"x":10,"t":22.7,"s":"IncCR"},{"x":15,"t":31.4,"s":"IncCR"},{"x":20,"t":46.0,"s":"IncCR"},{"x":25,"t":57.4,"s":"IncCR"},{"x":30,"t":62.6,"s":"IncCR"}]},
   "resolve":{"axis":{"x":"independent","y":"independent"}},
   "layer":[
    {"mark":{"type":"line","strokeWidth":1},
     "encoding":{"x":{"field":"x","type":"quantitative","scale":{"domain":[4.42,30.47],"nice":false,"zero":false},"axis":{"values":[5,10,15,20,25,30],"labelExpr":"datum.value+'%'","title":null,"orient":"bottom"}},
      "y":{"field":"t","type":"quantitative","scale":{"domain":[0,110],"nice":false,"zero":false},"axis":{"values":[0,20,40,60,80,100],"title":"Time (s)","orient":"left"}},
      "stroke":{"field":"s","type":"nominal","scale":{"domain":["GCon","SubIso","TriC","Dis","CC","CD","IncCR","PCon","IncPC","Ratio"],"range":["#ff0000","#ff0000","#ff0000","#ff0000","#0000ff","#0000ff","#0000ff","#0000ff","#0000ff","#ff0000"]},"legend":null}}},
    {"mark":{"type":"point","size":60,"strokeWidth":1,"opacity":1},
     "encoding":{"x":{"field":"x","type":"quantitative","scale":{"domain":[4.42,30.47],"nice":false,"zero":false},"axis":{"values":[5,10,15,20,25,30],"labels":false,"title":null,"orient":"top"}},
      "y":{"field":"t","type":"quantitative","scale":{"domain":[0,110],"nice":false,"zero":false},"axis":{"values":[0,20,40,60,80,100],"labels":false,"title":null,"orient":"right"}},
      "stroke":{"field":"s","type":"nominal","scale":{"domain":["GCon","SubIso","TriC","Dis","CC","CD","IncCR","PCon","IncPC","Ratio"],"range":["#ff0000","#ff0000","#ff0000","#ff0000","#0000ff","#0000ff","#0000ff","#0000ff","#0000ff","#ff0000"]},"legend":null},
      "fill":{"field":"s","type":"nominal","scale":{"domain":["GCon","SubIso","TriC","Dis","CC","CD","IncCR","PCon","IncPC","Ratio"],"range":["transparent","#ff0000","#ff0000","transparent","#0000ff","transparent","transparent","transparent","transparent","#ff0000"]},"legend":null},
      "shape":{"field":"s","type":"nominal","scale":{"domain":["GCon","SubIso","TriC","Dis","CC","CD","IncCR","PCon","IncPC","Ratio"],"range":["triangle-up","square","triangle-down","diamond","M0,-1L0.951,-0.309L0.588,0.809L-0.588,0.809L-0.951,-0.309Z","M-1,0L1,0M0,-1L0,1","M-1,0L1,0M0,-1L0,1M-0.71,-0.71L0.71,0.71M-0.71,0.71L0.71,-0.71","M-1,-1L1,1M-1,1L1,-1","M0,-1L0.951,-0.309L0.588,0.809L-0.588,0.809L-0.951,-0.309Z","diamond"]},"legend":null}}}
   ]},
  {"width":259,"height":177,"title":{"text":"(i) Vary |ΔG|/s, LiveJournal","offset":19},
   "data":{"values":[{"x":0.2,"t":0.337,"s":"Ratio"},{"x":0.4,"t":0.616,"s":"Ratio"},{"x":0.6,"t":0.753,"s":"Ratio"},{"x":0.8,"t":0.949,"s":"Ratio"},{"x":1.0,"t":1.608,"s":"Ratio"}]},
   "resolve":{"axis":{"x":"independent","y":"independent"}},
   "layer":[
    {"mark":{"type":"rule","color":"black","strokeWidth":1},
     "encoding":{"y":{"datum":1,"type":"quantitative","scale":{"domain":[0,2.086],"nice":false,"zero":false},"axis":null}}},
    {"mark":{"type":"line","strokeWidth":1},
     "encoding":{"x":{"field":"x","type":"quantitative","scale":{"domain":[0.1785,1.0625],"nice":false,"zero":false},"axis":{"values":[0.2,0.4,0.6,0.8,1.0],"labelExpr":"format(datum.value,'.1f')+'%'","title":null,"orient":"bottom"}},
      "y":{"field":"t","type":"quantitative","scale":{"domain":[0,2.086],"nice":false,"zero":false},"axis":{"values":[0,0.5,1,1.5,2],"format":"~g","title":"Time (s)","orient":"left"}},
      "stroke":{"field":"s","type":"nominal","scale":{"domain":["GCon","SubIso","TriC","Dis","CC","CD","IncCR","PCon","IncPC","Ratio"],"range":["#ff0000","#ff0000","#ff0000","#ff0000","#0000ff","#0000ff","#0000ff","#0000ff","#0000ff","#ff0000"]},"legend":null}}},
    {"mark":{"type":"point","size":80,"strokeWidth":1,"opacity":1},
     "encoding":{"x":{"field":"x","type":"quantitative","scale":{"domain":[0.1785,1.0625],"nice":false,"zero":false},"axis":{"values":[0.2,0.4,0.6,0.8,1.0],"labels":false,"title":null,"orient":"top"}},
      "y":{"field":"t","type":"quantitative","scale":{"domain":[0,2.086],"nice":false,"zero":false},"axis":{"values":[0,0.5,1,1.5,2],"labels":false,"title":null,"orient":"right"}},
      "stroke":{"field":"s","type":"nominal","scale":{"domain":["GCon","SubIso","TriC","Dis","CC","CD","IncCR","PCon","IncPC","Ratio"],"range":["#ff0000","#ff0000","#ff0000","#ff0000","#0000ff","#0000ff","#0000ff","#0000ff","#0000ff","#ff0000"]},"legend":null},
      "fill":{"field":"s","type":"nominal","scale":{"domain":["GCon","SubIso","TriC","Dis","CC","CD","IncCR","PCon","IncPC","Ratio"],"range":["transparent","#ff0000","#ff0000","transparent","#0000ff","transparent","transparent","transparent","transparent","#ff0000"]},"legend":null},
      "shape":{"field":"s","type":"nominal","scale":{"domain":["GCon","SubIso","TriC","Dis","CC","CD","IncCR","PCon","IncPC","Ratio"],"range":["triangle-up","square","triangle-down","diamond","M0,-1L0.951,-0.309L0.588,0.809L-0.588,0.809L-0.951,-0.309Z","M-1,0L1,0M0,-1L0,1","M-1,0L1,0M0,-1L0,1M-0.71,-0.71L0.71,0.71M-0.71,0.71L0.71,-0.71","M-1,-1L1,1M-1,1L1,-1","M0,-1L0.951,-0.309L0.588,0.809L-0.588,0.809L-0.951,-0.309Z","diamond"]},"legend":null}}}
   ]},
  {"width":259,"height":177,"title":{"text":"(j) Vary |G|, GCon, synthetic","offset":19},
   "data":{"values":[{"x":0.5,"t":306,"s":"GCon"},{"x":1,"t":583,"s":"GCon"},{"x":1.5,"t":796,"s":"GCon"},{"x":2,"t":1122,"s":"GCon"},{"x":2.5,"t":1337,"s":"GCon"},
    {"x":0.5,"t":58.4,"s":"TriC"},{"x":1,"t":108.7,"s":"TriC"},{"x":1.5,"t":178.7,"s":"TriC"},{"x":2,"t":236,"s":"TriC"},{"x":2.5,"t":270,"s":"TriC"},
    {"x":0.5,"t":28.8,"s":"Dis"},{"x":1,"t":68.1,"s":"Dis"},{"x":1.5,"t":100,"s":"Dis"},{"x":2,"t":129.6,"s":"Dis"},{"x":2.5,"t":158,"s":"Dis"},
    {"x":0.5,"t":12.3,"s":"CD"},{"x":1,"t":29.7,"s":"CD"},{"x":1.5,"t":38.5,"s":"CD"},{"x":2,"t":54.8,"s":"CD"},{"x":2.5,"t":60.8,"s":"CD"},
    {"x":0.5,"t":10.4,"s":"SubIso"},{"x":1,"t":23.4,"s":"SubIso"},{"x":1.5,"t":32,"s":"SubIso"},{"x":2,"t":45,"s":"SubIso"},{"x":2.5,"t":53.7,"s":"SubIso"}]},
   "resolve":{"axis":{"x":"independent","y":"independent"}},
   "layer":[
    {"mark":{"type":"line","strokeWidth":1},
     "encoding":{"x":{"field":"x","type":"quantitative","scale":{"domain":[0.228,2.772],"nice":false,"zero":false},"axis":{"values":[0.5,1,1.5,2,2.5],"labelExpr":"datum.value+'B'","title":null,"orient":"bottom"}},
      "y":{"field":"t","type":"quantitative","scale":{"type":"log","domain":[8.74,2140],"nice":false},"axis":{"values":[10,50,100,500,1000,2000],"format":"~g","title":"Time (s logscale)","orient":"left"}},
      "stroke":{"field":"s","type":"nominal","scale":{"domain":["GCon","SubIso","TriC","Dis","CC","CD","IncCR","PCon","IncPC","Ratio"],"range":["#ff0000","#ff0000","#ff0000","#ff0000","#0000ff","#0000ff","#0000ff","#0000ff","#0000ff","#ff0000"]},"legend":null}}},
    {"mark":{"type":"point","size":60,"strokeWidth":1,"opacity":1},
     "encoding":{"x":{"field":"x","type":"quantitative","scale":{"domain":[0.228,2.772],"nice":false,"zero":false},"axis":{"values":[0.5,1,1.5,2,2.5],"labels":false,"title":null,"orient":"top"}},
      "y":{"field":"t","type":"quantitative","scale":{"type":"log","domain":[8.74,2140],"nice":false},"axis":{"values":[10,50,100,500,1000,2000],"labels":false,"title":null,"orient":"right"}},
      "stroke":{"field":"s","type":"nominal","scale":{"domain":["GCon","SubIso","TriC","Dis","CC","CD","IncCR","PCon","IncPC","Ratio"],"range":["#ff0000","#ff0000","#ff0000","#ff0000","#0000ff","#0000ff","#0000ff","#0000ff","#0000ff","#ff0000"]},"legend":null},
      "fill":{"field":"s","type":"nominal","scale":{"domain":["GCon","SubIso","TriC","Dis","CC","CD","IncCR","PCon","IncPC","Ratio"],"range":["transparent","#ff0000","#ff0000","transparent","#0000ff","transparent","transparent","transparent","transparent","#ff0000"]},"legend":null},
      "shape":{"field":"s","type":"nominal","scale":{"domain":["GCon","SubIso","TriC","Dis","CC","CD","IncCR","PCon","IncPC","Ratio"],"range":["triangle-up","square","triangle-down","diamond","M0,-1L0.951,-0.309L0.588,0.809L-0.588,0.809L-0.951,-0.309Z","M-1,0L1,0M0,-1L0,1","M-1,0L1,0M0,-1L0,1M-0.71,-0.71L0.71,0.71M-0.71,0.71L0.71,-0.71","M-1,-1L1,1M-1,1L1,-1","M0,-1L0.951,-0.309L0.588,0.809L-0.588,0.809L-0.951,-0.309Z","diamond"]},"legend":null}}}
   ]},
  {"width":259,"height":177,"title":{"text":"(k) Vary k, PCon, GSH","offset":19},
   "data":{"values":[{"x":4,"t":373,"s":"GCon"},{"x":8,"t":373,"s":"GCon"},{"x":12,"t":373,"s":"GCon"},{"x":16,"t":373,"s":"GCon"},{"x":20,"t":373,"s":"GCon"},
    {"x":4,"t":156,"s":"PCon"},{"x":8,"t":95,"s":"PCon"},{"x":12,"t":73.9,"s":"PCon"},{"x":16,"t":57.7,"s":"PCon"},{"x":20,"t":36.7,"s":"PCon"}]},
   "resolve":{"axis":{"x":"independent","y":"independent"}},
   "layer":[
    {"mark":{"type":"line","strokeWidth":1},
     "encoding":{"x":{"field":"x","type":"quantitative","scale":{"domain":[3.62,20.36],"nice":false,"zero":false},"axis":{"values":[4,8,12,16,20],"title":null,"orient":"bottom"}},
      "y":{"field":"t","type":"quantitative","scale":{"type":"log","domain":[17.1,895],"nice":false},"axis":{"values":[20,50,100,200,500],"format":"~g","title":"Time (s)","orient":"left"}},
      "stroke":{"field":"s","type":"nominal","scale":{"domain":["GCon","SubIso","TriC","Dis","CC","CD","IncCR","PCon","IncPC","Ratio"],"range":["#ff0000","#ff0000","#ff0000","#ff0000","#0000ff","#0000ff","#0000ff","#0000ff","#0000ff","#ff0000"]},"legend":null}}},
    {"mark":{"type":"point","size":60,"strokeWidth":1,"opacity":1},
     "encoding":{"x":{"field":"x","type":"quantitative","scale":{"domain":[3.62,20.36],"nice":false,"zero":false},"axis":{"values":[4,8,12,16,20],"labels":false,"title":null,"orient":"top"}},
      "y":{"field":"t","type":"quantitative","scale":{"type":"log","domain":[17.1,895],"nice":false},"axis":{"values":[20,50,100,200,500],"labels":false,"title":null,"orient":"right"}},
      "stroke":{"field":"s","type":"nominal","scale":{"domain":["GCon","SubIso","TriC","Dis","CC","CD","IncCR","PCon","IncPC","Ratio"],"range":["#ff0000","#ff0000","#ff0000","#ff0000","#0000ff","#0000ff","#0000ff","#0000ff","#0000ff","#ff0000"]},"legend":null},
      "fill":{"field":"s","type":"nominal","scale":{"domain":["GCon","SubIso","TriC","Dis","CC","CD","IncCR","PCon","IncPC","Ratio"],"range":["transparent","#ff0000","#ff0000","transparent","#0000ff","transparent","transparent","transparent","transparent","#ff0000"]},"legend":null},
      "shape":{"field":"s","type":"nominal","scale":{"domain":["GCon","SubIso","TriC","Dis","CC","CD","IncCR","PCon","IncPC","Ratio"],"range":["triangle-up","square","triangle-down","diamond","M0,-1L0.951,-0.309L0.588,0.809L-0.588,0.809L-0.951,-0.309Z","M-1,0L1,0M0,-1L0,1","M-1,0L1,0M0,-1L0,1M-0.71,-0.71L0.71,0.71M-0.71,0.71L0.71,-0.71","M-1,-1L1,1M-1,1L1,-1","M0,-1L0.951,-0.309L0.588,0.809L-0.588,0.809L-0.951,-0.309Z","diamond"]},"legend":null}}}
   ]},
  {"width":259,"height":177,"title":{"text":"(l) Vary k, IncPC, GSH","offset":19},
   "data":{"values":[{"x":4,"t":163,"s":"IncCR"},{"x":8,"t":163,"s":"IncCR"},{"x":12,"t":163,"s":"IncCR"},{"x":16,"t":163,"s":"IncCR"},{"x":20,"t":163,"s":"IncCR"},
    {"x":4,"t":77.3,"s":"IncPC"},{"x":8,"t":59.3,"s":"IncPC"},{"x":12,"t":35.5,"s":"IncPC"},{"x":16,"t":31.5,"s":"IncPC"},{"x":20,"t":20.6,"s":"IncPC"}]},
   "resolve":{"axis":{"x":"independent","y":"independent"}},
   "layer":[
    {"mark":{"type":"line","strokeWidth":1},
     "encoding":{"x":{"field":"x","type":"quantitative","scale":{"domain":[3.46,20.23],"nice":false,"zero":false},"axis":{"values":[4,8,12,16,20],"title":null,"orient":"bottom"}},
      "y":{"field":"t","type":"quantitative","scale":{"type":"log","domain":[14.9,300],"nice":false},"axis":{"values":[20,50,100,200],"format":"~g","title":"Time (s)","orient":"left"}},
      "stroke":{"field":"s","type":"nominal","scale":{"domain":["GCon","SubIso","TriC","Dis","CC","CD","IncCR","PCon","IncPC","Ratio"],"range":["#ff0000","#ff0000","#ff0000","#ff0000","#0000ff","#0000ff","#0000ff","#0000ff","#0000ff","#ff0000"]},"legend":null}}},
    {"mark":{"type":"point","size":60,"strokeWidth":1,"opacity":1},
     "encoding":{"x":{"field":"x","type":"quantitative","scale":{"domain":[3.46,20.23],"nice":false,"zero":false},"axis":{"values":[4,8,12,16,20],"labels":false,"title":null,"orient":"top"}},
      "y":{"field":"t","type":"quantitative","scale":{"type":"log","domain":[14.9,300],"nice":false},"axis":{"values":[20,50,100,200],"labels":false,"title":null,"orient":"right"}},
      "stroke":{"field":"s","type":"nominal","scale":{"domain":["GCon","SubIso","TriC","Dis","CC","CD","IncCR","PCon","IncPC","Ratio"],"range":["#ff0000","#ff0000","#ff0000","#ff0000","#0000ff","#0000ff","#0000ff","#0000ff","#0000ff","#ff0000"]},"legend":null},
      "fill":{"field":"s","type":"nominal","scale":{"domain":["GCon","SubIso","TriC","Dis","CC","CD","IncCR","PCon","IncPC","Ratio"],"range":["transparent","#ff0000","#ff0000","transparent","#0000ff","transparent","transparent","transparent","transparent","#ff0000"]},"legend":null},
      "shape":{"field":"s","type":"nominal","scale":{"domain":["GCon","SubIso","TriC","Dis","CC","CD","IncCR","PCon","IncPC","Ratio"],"range":["triangle-up","square","triangle-down","diamond","M0,-1L0.951,-0.309L0.588,0.809L-0.588,0.809L-0.951,-0.309Z","M-1,0L1,0M0,-1L0,1","M-1,0L1,0M0,-1L0,1M-0.71,-0.71L0.71,0.71M-0.71,0.71L0.71,-0.71","M-1,-1L1,1M-1,1L1,-1","M0,-1L0.951,-0.309L0.588,0.809L-0.588,0.809L-0.951,-0.309Z","diamond"]},"legend":null}}}
   ]}
 ]
}
]
}
